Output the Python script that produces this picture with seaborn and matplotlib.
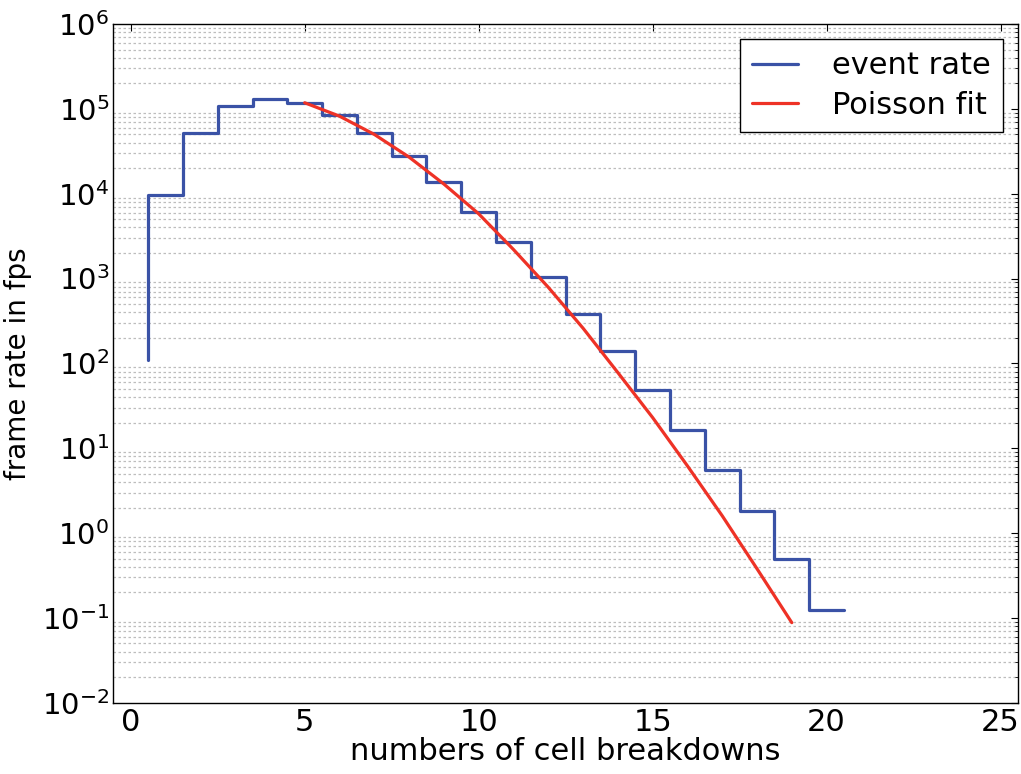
import numpy as np
import pandas as pd
import matplotlib
matplotlib.use("Agg")
import matplotlib.pyplot as plt
import matplotlib.ticker as mticker
import seaborn as sns

# bin centres (number of cell breakdowns) and measured event rate per bin
breakdowns = [1, 2, 3, 4, 5, 6, 7, 8, 9, 10,
              11, 12, 13, 14, 15, 16, 17, 18, 19, 20]
event_rate = [9.7e3, 5.2e4, 1.08e5, 1.3e5, 1.17e5, 8.5e4, 5.2e4, 2.8e4, 1.38e4, 6.1e3,
              2.7e3, 1.03e3, 3.8e2, 1.4e2, 49, 16.5, 5.5, 1.8, 0.49, 0.124]
start_level = 110  # lower end of the first vertical edge

# Poisson fit
fit_k = [5, 6, 7, 8, 9, 10, 11, 12, 13, 14, 15, 16, 17, 18, 19]
fit_rate = [1.18e5, 8.2e4, 5.0e4, 2.7e4, 1.3e4, 5.8e3, 2.2e3, 790, 260, 78,
            23, 6.2, 1.6, 0.38, 0.088]

blue = '#3a52a6'
red = '#ee3226'

sns.set_style('white')
plt.rcParams.update({
    'font.family': ['DejaVu Sans'],
    'text.color': 'black', 'axes.labelcolor': 'black',
    'xtick.direction': 'in', 'ytick.direction': 'in',
    'xtick.top': True, 'ytick.right': True,
    'xtick.major.size': 5, 'ytick.major.size': 5,
    'xtick.minor.size': 2.5, 'ytick.minor.size': 2.5,
    'xtick.color': 'black', 'ytick.color': 'black',
    'axes.edgecolor': 'black', 'axes.linewidth': 1.0,
})

# step outline: edges of each bin, post-style
edges = np.array(breakdowns) - 0.5
step_df = pd.DataFrame({
    'x': np.r_[edges[0], edges, edges[-1] + 1],
    'y': np.r_[start_level, event_rate, event_rate[-1]],
})
fit_df = pd.DataFrame({'x': fit_k, 'y': fit_rate})

fig = plt.figure(figsize=(10.21, 7.74), dpi=100)
ax = fig.add_axes([0.111, 0.092, 0.886, 0.877])

sns.lineplot(data=step_df, x='x', y='y', ax=ax, sort=False, estimator=None,
             drawstyle='steps-post', color=blue, linewidth=2.3, label='event rate')
sns.lineplot(data=fit_df, x='x', y='y', ax=ax, sort=False, estimator=None,
             color=red, linewidth=2.3, label='Poisson fit')

ax.set_yscale('log')
ax.set_ylim(1e-2, 1e6)
ax.set_xlim(-0.5, 25.5)
ax.set_xticks([0, 5, 10, 15, 20, 25])
ax.yaxis.set_major_locator(mticker.LogLocator(base=10, numticks=20))
ax.yaxis.set_minor_locator(mticker.LogLocator(base=10, subs=np.arange(2, 10), numticks=20))
ax.yaxis.set_minor_formatter(mticker.NullFormatter())
ax.tick_params(axis='x', which='major', labelsize=22, pad=4)
ax.tick_params(axis='y', which='major', labelsize=21, pad=3)

ax.grid(False)
ax.yaxis.grid(True, which='minor', linestyle=(0, (2, 2)), color='#bdbdbd', linewidth=0.9)
ax.set_axisbelow(True)

ax.set_xlabel('numbers of cell breakdowns', fontsize=22, labelpad=0)
ax.set_ylabel('frame rate in fps', fontsize=20, labelpad=7)

leg = ax.legend(loc='upper right', fontsize=22, frameon=True, fancybox=False,
                framealpha=1, edgecolor='black', handlelength=1.5,
                handletextpad=1.1, borderpad=0.4, labelspacing=0.35,
                borderaxespad=0.5)
leg.get_frame().set_linewidth(1.0)

plt.savefig('out.png', dpi=100)
plt.close()
